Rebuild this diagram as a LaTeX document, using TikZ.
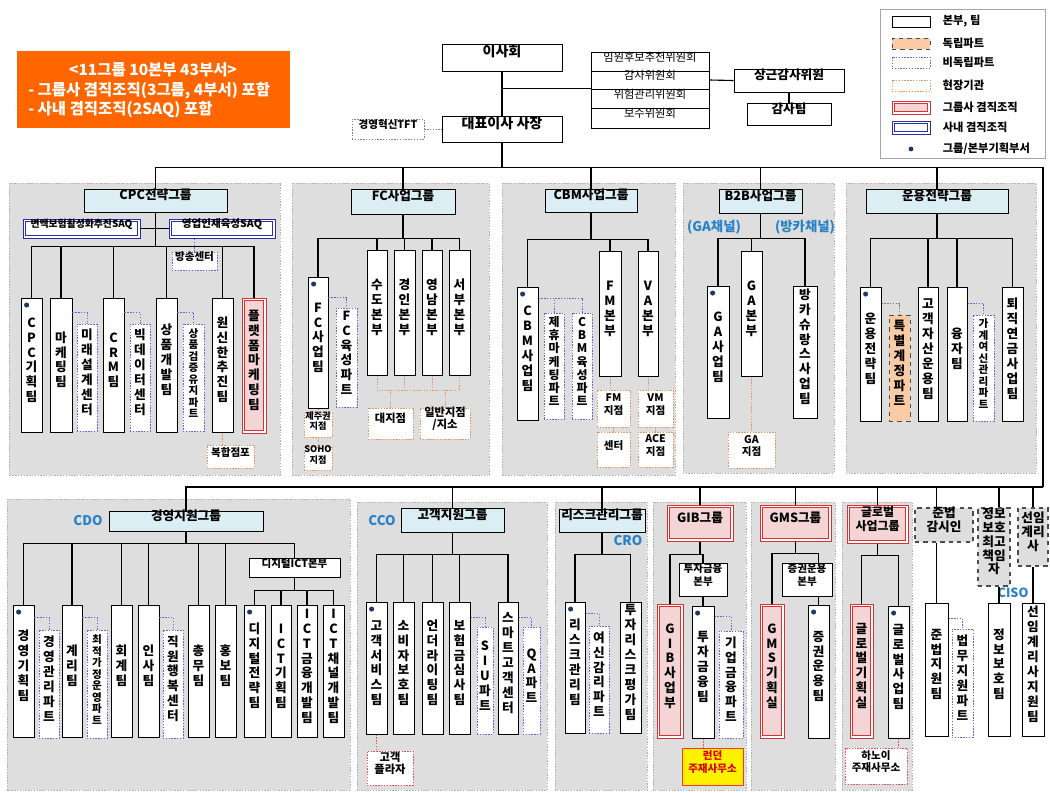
\documentclass[tikz,border=0pt]{standalone}
\usepackage{fontspec}
\setmainfont{Noto Sans CJK KR}
\usetikzlibrary{fit,positioning}

% one character per line
\ExplSyntaxOn
\NewDocumentCommand \vtext { m }
  {
    \tl_set:Nx \l_tmpa_tl { \tl_tail:n {#1} }
    \tl_head:n {#1}
    \tl_map_inline:Nn \l_tmpa_tl { \\ ##1 }
  }
\ExplSyntaxOff

\definecolor{hdr}{RGB}{219,238,244}
\definecolor{grpbg}{RGB}{222,222,222}
\definecolor{navy}{RGB}{31,56,100}
\definecolor{partblue}{RGB}{100,100,225}
\definecolor{fieldc}{RGB}{228,150,100}
\definecolor{dualc}{RGB}{215,50,50}
\definecolor{dualfill}{RGB}{244,212,212}
\definecolor{indepc}{RGB}{250,203,165}
\definecolor{saqc}{RGB}{45,45,160}
\definecolor{lblue}{RGB}{40,130,200}
\definecolor{banner}{RGB}{255,102,0}

\begin{document}
\begin{tikzpicture}[x=0.025cm, y=-0.025cm,
    dotline/.style={dash pattern=on 1pt off 1pt},
    team/.style={draw, fill=white, line width=0.7pt, inner sep=0pt, align=center, font=\bfseries\fontsize{9}{10.6}\selectfont},
    mid/.style={font=\bfseries\fontsize{8.5}{9.3}\selectfont},
    tight/.style={font=\bfseries\fontsize{7.5}{8.2}\selectfont},
    small/.style={font=\bfseries\fontsize{7.5}{8.6}\selectfont},
    part/.style={team, draw=partblue, dotline, line width=0.6pt},
    indep/.style={team, fill=indepc, draw=black!70, dashed, line width=0.6pt},
    field/.style={team, draw=fieldc, dotline, line width=0.6pt, small},
    redfield/.style={team, draw=red!70, dotline, line width=0.6pt, small},
    dual/.style={team, draw=dualc, line width=0.7pt,
        path picture={\draw[draw=dualc, fill=dualfill, line width=0.6pt] ([shift={(1.8pt,-1.8pt)}]path picture bounding box.north west) rectangle ([shift={(-1.8pt,1.8pt)}]path picture bounding box.south east);}},
    saqbox/.style={team, draw=saqc, line width=0.7pt,
        path picture={\draw[draw=saqc, line width=0.6pt] ([shift={(1.8pt,-1.8pt)}]path picture bounding box.north west) rectangle ([shift={(-1.8pt,1.8pt)}]path picture bounding box.south east);}},
    grouphead/.style={team, fill=hdr, font=\bfseries\fontsize{9}{10.5}\selectfont},
    officer/.style={team, fill=grpbg, draw=black!70, dashed, line width=0.9pt, font=\bfseries\fontsize{9}{9.8}\selectfont},
    cmte/.style={draw, fill=white, line width=0.6pt, inner sep=0pt, font=\fontsize{8}{9}\selectfont},
    plan/.style={path picture={\fill[navy] ([shift={(4pt,-5pt)}]path picture bounding box.north west) circle (1.8pt);}},
    grp/.style={fill=grpbg, draw=gray!60, dotline},
    chief/.style={text=lblue, font=\bfseries\fontsize{9.5}{11}\selectfont, inner sep=0pt},
    legtxt/.style={font=\bfseries\fontsize{8}{9}\selectfont, inner sep=0pt},
    bantxt/.style={text=white, font=\bfseries\fontsize{11}{12}\selectfont, inner sep=0pt},
    link/.style={line width=0.8pt},
    plink/.style={draw=partblue, dotline, line width=0.6pt},
    flink/.style={draw=fieldc, dotline, line width=0.6pt},
    rlink/.style={draw=red!70, dotline, line width=0.6pt},
    glink/.style={draw=gray, dotline, line width=0.6pt}
]
\useasboundingbox (0,0) rectangle (1050,792);

% Group backgrounds
\draw[grp] (9,183) rectangle (280,475);
\draw[grp] (292,183) rectangle (489,475);
\draw[grp] (502,183) rectangle (675,475);
\draw[grp] (683,183) rectangle (834,473);
\draw[grp] (846,183) rectangle (1036,473);
\draw[grp] (7,499) rectangle (350,790);
\draw[grp] (357,502) rectangle (547,790);
\draw[grp] (555,502) rectangle (647,790);
\draw[grp] (653,502) rectangle (746,790);
\draw[grp] (751,502) rectangle (835,790);
\draw[grp] (842,502) rectangle (912,790);

% Banner
\node[fill=banner, inner sep=0pt, fit={(17,51) (290,128)}] (note) {};
\node[bantxt] (note1) at (153,70) {<11그룹 10본부 43부서>};
\node[bantxt, anchor=west] (note2) at (28,91) {- 그룹사 겸직조직(3그룹, 4부서) 포함};
\node[bantxt, anchor=west] (note3) at (28,110) {- 사내 겸직조직(2SAQ) 포함};

% Legend
\draw[gray!70, line width=0.6pt] (880,9) rectangle (1045,158);
\node[team, fit={(892,16) (930,27)}] (lg1) {};
\node[indep, fit={(892,38) (930,49)}] (lg2) {};
\node[part, fit={(892,57) (930,68)}] (lg3) {};
\node[field, fit={(892,80) (930,91)}] (lg4) {};
\node[dual, fit={(892,101) (930,114)}] (lg5) {};
\node[saqbox, fit={(892,121) (930,134)}] (lg6) {};
\node[circle, fill=navy, inner sep=0pt, minimum size=0.12cm] (lg7) at (911,149) {};
\node[legtxt, right=0.3cm of lg1] (lt1) {본부, 팀};
\node[legtxt, right=0.3cm of lg2] (lt2) {독립파트};
\node[legtxt, right=0.3cm of lg3] (lt3) {비독립파트};
\node[legtxt, right=0.3cm of lg4] (lt4) {현장기관};
\node[legtxt, right=0.3cm of lg5] (lt5) {그룹사 겸직조직};
\node[legtxt, right=0.3cm of lg6] (lt6) {사내 겸직조직};
\node[legtxt, right=0.72cm of lg7] (lt7) {그룹/본부기획부서};

% Board and CEO
\node[team, font=\bfseries\fontsize{10}{12}\selectfont, fit={(442,44) (562,71)}] (board) {이사회};
\node[team, font=\bfseries\fontsize{10}{12}\selectfont, fit={(442,116) (562,142)}] (ceo) {대표이사 사장};
\node[team, draw=gray, dotline, line width=0.6pt, font=\bfseries\fontsize{7.5}{9}\selectfont, fit={(352,119) (424,139)}] (tft) {경영혁신TFT};
\node[cmte, fit={(591,52) (709,71)}] (cmt1) {임원후보추천위원회};
\node[cmte, fit={(591,71) (709,89)}] (cmt2) {감사위원회};
\node[cmte, fit={(591,89) (709,108)}] (cmt3) {위험관리위원회};
\node[cmte, fit={(591,108) (709,128)}] (cmt4) {보수위원회};
\node[team, fit={(734,69) (844,92)}] (auditor) {상근감사위원};
\node[team, fit={(747,103) (831,125)}] (audteam) {감사팀};

\draw[link] (board) -- (ceo);
\draw[link] (board.south |- cmt3.north west) -- (cmt3.north west);
\draw[link] (cmt2.east) -- (auditor.west);
\draw[link] (auditor) -- (audteam);
\draw[glink] (tft) -- (ceo);

% CPC group
\node[grouphead, fit={(84,189) (227,212)}] (gcpc) {CPC전략그룹};
\node[saqbox, font=\bfseries\fontsize{7}{8}\selectfont, fit={(23,219) (140,238)}] (saq1) {변액보험활성화추진SAQ};
\node[saqbox, font=\bfseries\fontsize{7.5}{8}\selectfont, fit={(169,219) (275,238)}] (saq2) {영업인재육성SAQ};
\node[part, small, fit={(172,252) (217,270)}] (bcast) {방송센터};
\node[team, plan, fit={(21,298) (42,432)}] (cpc1) {\vtext{CPC기획팀}};
\node[team, fit={(50,298) (72,432)}] (cpc2) {\vtext{마케팅팀}};
\node[part, fit={(77,324) (97,431)}] (cpc2p) {\vtext{미래설계센터}};
\node[team, fit={(103,298) (124,432)}] (cpc3) {\vtext{CRM팀}};
\node[part, fit={(130,324) (150,431)}] (cpc3p) {\vtext{빅데이터센터}};
\node[team, fit={(156,298) (177,432)}] (cpc4) {\vtext{상품개발팀}};
\node[part, tight, fit={(183,324) (204,431)}] (cpc4p) {\vtext{상품검증유지파트}};
\node[team, fit={(212,298) (233,432)}] (cpc5) {\vtext{원신한추진팀}};
\node[dual, fit={(242,298) (266,433)}] (cpc6) {\vtext{플랫폼마케팅팀}};
\node[field, fit={(207,445) (254,468)}] (shop) {복합점포};

\draw[link] (saq1) -- (saq2);
\draw[link] (gcpc.south) -- ++(0,34) -| (cpc1);
\draw[link] (gcpc.south) -- ++(0,34) -| (cpc2);
\draw[link] (gcpc.south) -- ++(0,34) -| (cpc3);
\draw[link] (gcpc.south) -- ++(0,34) -| (cpc4);
\draw[link] (gcpc.south) -- ++(0,34) -| (cpc5);
\draw[link] (gcpc.south) -- ++(0,34) -| (cpc6);
\draw[plink] (bcast.north) -- (bcast.north |- saq2.south);
\draw[plink] ([yshift=-0.375cm]cpc2.north east) -| (cpc2p);
\draw[plink] ([yshift=-0.375cm]cpc3.north east) -| (cpc3p);
\draw[plink] ([yshift=-0.375cm]cpc4.north east) -| (cpc4p);
\draw[flink] (cpc5.south) -- (cpc5.south |- shop.north);

% FC group
\node[grouphead, fit={(351,189) (455,214)}] (gfc) {FC사업그룹};
\node[team, plan, fit={(308,277) (328,408)}] (fc1) {\vtext{FC사업팀}};
\node[part, fit={(336,308) (357,407)}] (fc1p) {\vtext{FC육성파트}};
\node[team, fit={(367,250) (387,375)}] (fc2) {\vtext{수도본부}};
\node[team, fit={(394,250) (415,375)}] (fc3) {\vtext{경인본부}};
\node[team, fit={(422,250) (442,375)}] (fc4) {\vtext{영남본부}};
\node[team, fit={(449,250) (470,375)}] (fc5) {\vtext{서부본부}};
\node[field, font=\bfseries\fontsize{6.5}{7.5}\selectfont, fit={(304,413) (332,437)}] (brjeju) {제주권\\지점};
\node[field, font=\bfseries\fontsize{6.5}{7.5}\selectfont, fit={(304,447) (332,470)}] (brsoho) {SOHO\\지점};
\node[field, font=\bfseries\fontsize{8}{9}\selectfont, fit={(368,408) (413,439)}] (brbig) {대지점};
\node[field, font=\bfseries\fontsize{8}{9}\selectfont, fit={(420,408) (470,439)}] (brgen) {일반지점\\/지소};

\draw[link] (gfc.south) -- ++(0,24) -| (fc1);
\draw[link] (gfc.south) -- ++(0,24) -| (fc2);
\draw[link] (gfc.south) -- ++(0,24) -| (fc3);
\draw[link] (gfc.south) -- ++(0,24) -| (fc4);
\draw[link] (gfc.south) -- ++(0,24) -| (fc5);
\draw[plink] ([yshift=-0.525cm]fc1.north east) -| (fc1p);
\draw[flink] (fc1) -- (brjeju);
\draw[flink] (brjeju) -- (brsoho);
\draw[flink] (fc2.south) -- ++(0,15) -| (fc5.south);
\draw[flink] (fc3.south) -- ++(0,15);
\draw[flink] (fc4.south) -- ++(0,15);
\draw[flink] (brbig.north) -- ++(0,-18);
\draw[flink] (brgen.north) -- ++(0,-18);

% CBM group
\node[grouphead, fit={(545,189) (637,212)}] (gcbm) {CBM사업그룹};
\node[team, plan, fit={(517,287) (538,420)}] (cbm1) {\vtext{CBM사업팀}};
\node[part, mid, fit={(544,313) (564,419)}] (cbm1p1) {\vtext{제휴마케팅파트}};
\node[part, mid, fit={(572,313) (592,419)}] (cbm1p2) {\vtext{CBM육성파트}};
\node[team, fit={(599,251) (621,376)}] (cbm2) {\vtext{FM본부}};
\node[team, fit={(638,251) (658,376)}] (cbm3) {\vtext{VA본부}};
\node[field, fit={(597,390) (630,427)}] (fm1) {FM\\지점};
\node[field, fit={(597,432) (630,467)}] (fm2) {센터};
\node[field, fit={(638,390) (673,427)}] (vm1) {VM\\지점};
\node[field, fit={(638,432) (673,467)}] (vm2) {ACE\\지점};

\draw[link] (gcbm.south) -- ++(0,27) -| (cbm1);
\draw[link] (gcbm.south) -- ++(0,27) -| (cbm2);
\draw[link] (gcbm.south) -- ++(0,27) -| (cbm3);
\draw[plink] ([yshift=-0.3cm]cbm1.north east) -| (cbm1p1);
\draw[plink] ([yshift=-0.3cm]cbm1.north east) -| (cbm1p2);
\draw[flink] (cbm2.south) -- (cbm2.south |- fm1.north);
\draw[flink] (fm1) -- (fm2);
\draw[flink] (cbm3.south) -- (cbm3.south |- vm1.north);
\draw[flink] (vm1) -- (vm2);

% B2B group
\node[grouphead, fit={(719,189) (802,213)}] (gb2b) {B2B사업그룹};
\node[chief] (gach) at (714,227) {(GA채널)};
\node[chief] (bach) at (805,227) {(방카채널)};
\node[team, plan, fit={(707,286) (729,418)}] (b2b1) {\vtext{GA사업팀}};
\node[team, fit={(741,251) (762,376)}] (b2b2) {\vtext{GA본부}};
\node[team, fit={(793,286) (817,418)}] (b2b3) {\vtext{방카슈랑스사업팀}};
\node[field, fit={(728,432) (775,468)}] (ga1) {GA\\지점};

\draw[link] (gb2b.south) -- ++(0,25) -| (b2b1);
\draw[link] (gb2b.south) -- ++(0,25) -| (b2b2);
\draw[link] (gb2b.south) -- ++(0,25) -| (b2b3);
\draw[flink] (b2b2.south) -- (b2b2.south |- ga1.north);

% Asset management group
\node[grouphead, fit={(866,189) (1008,213)}] (gops) {운용전략그룹};
\node[team, plan, fit={(860,287) (881,421)}] (ops1) {\vtext{운용전략팀}};
\node[indep, fit={(889,315) (910,421)}] (ops1p) {\vtext{특별계정파트}};
\node[team, fit={(918,287) (938,421)}] (ops2) {\vtext{고객자산운용팀}};
\node[team, fit={(947,287) (967,421)}] (ops3) {\vtext{융자팀}};
\node[part, tight, fit={(973,315) (994,421)}] (ops3p) {\vtext{가계여신관리파트}};
\node[team, fit={(1002,287) (1023,421)}] (ops4) {\vtext{퇴직연금사업팀}};

\draw[link] (gops.south) -- ++(0,25) -| (ops1);
\draw[link] (gops.south) -- ++(0,25) -| (ops2);
\draw[link] (gops.south) -- ++(0,25) -| (ops3);
\draw[link] (gops.south) -- ++(0,25) -| (ops4);
\draw[glink] ([yshift=-0.425cm]ops1.north east) -| (ops1p);
\draw[plink] ([yshift=-0.425cm]ops3.north east) -| (ops3p);

% Management support group
\node[grouphead, fit={(109,511) (263,531)}] (gmgmt) {경영지원그룹};
\node[chief] (cdo) at (88,521) {CDO};
\node[team, plan, fit={(13,605) (34,737)}] (mg1) {\vtext{경영기획팀}};
\node[part, fit={(39,630) (59,738)}] (mg1p) {\vtext{경영관리파트}};
\node[team, fit={(62,605) (82,737)}] (mg2) {\vtext{계리팀}};
\node[part, tight, fit={(87,630) (107,738)}] (mg2p) {\vtext{최적가정운영파트}};
\node[team, fit={(111,605) (132,737)}] (mg3) {\vtext{회계팀}};
\node[team, fit={(138,605) (159,737)}] (mg4) {\vtext{인사팀}};
\node[part, fit={(163,630) (183,738)}] (mg4p) {\vtext{직원행복센터}};
\node[team, fit={(188,605) (209,737)}] (mg5) {\vtext{총무팀}};
\node[team, fit={(215,605) (236,737)}] (mg6) {\vtext{홍보팀}};
\node[team, small, fit={(249,558) (340,577)}] (ict) {디지털ICT본부};
\node[team, plan, fit={(244,605) (265,737)}] (ict1) {\vtext{디지털전략팀}};
\node[team, fit={(271,605) (291,737)}] (ict2) {\vtext{ICT기획팀}};
\node[team, fit={(297,605) (317,737)}] (ict3) {\vtext{ICT금융개발팀}};
\node[team, fit={(323,605) (344,737)}] (ict4) {\vtext{ICT채널개발팀}};

\draw[link] (gmgmt.south) -- ++(0,12) -| (mg1);
\draw[link] (gmgmt.south) -- ++(0,12) -| (mg2);
\draw[link] (gmgmt.south) -- ++(0,12) -| (mg3);
\draw[link] (gmgmt.south) -- ++(0,12) -| (mg4);
\draw[link] (gmgmt.south) -- ++(0,12) -| (mg5);
\draw[link] (gmgmt.south) -- ++(0,12) -| (mg6);
\draw[link] (gmgmt.south) -- ++(0,12) -| (ict);
\draw[link] (ict.south) -- ++(0,13) -| (ict1);
\draw[link] (ict.south) -- ++(0,13) -| (ict2);
\draw[link] (ict.south) -- ++(0,13) -| (ict3);
\draw[link] (ict.south) -- ++(0,13) -| (ict4);
\draw[plink] ([yshift=-0.325cm]mg1.north east) -| (mg1p);
\draw[plink] ([yshift=-0.325cm]mg2.north east) -| (mg2p);
\draw[plink] ([yshift=-0.325cm]mg4.north east) -| (mg4p);

% Customer support group
\node[grouphead, fit={(401,508) (504,532)}] (gcs) {고객지원그룹};
\node[chief] (cco) at (382,521) {CCO};
\node[team, plan, fit={(366,602) (387,734)}] (cs1) {\vtext{고객서비스팀}};
\node[team, fit={(393,602) (414,734)}] (cs2) {\vtext{소비자보호팀}};
\node[team, fit={(422,602) (443,734)}] (cs3) {\vtext{언더라이팅팀}};
\node[team, fit={(449,602) (470,734)}] (cs4) {\vtext{보험금심사팀}};
\node[part, fit={(477,627) (493,734)}] (cs4p) {\vtext{SIU파트}};
\node[team, fit={(498,602) (518,734)}] (cs5) {\vtext{스마트고객센터}};
\node[part, fit={(523,627) (540,734)}] (cs5p) {\vtext{QA파트}};
\node[redfield, font=\bfseries\fontsize{8}{9}\selectfont, fit={(367,751) (413,785)}] (plaza) {고객\\플라자};

\draw[link] (gcs.south) -- ++(0,22) -| (cs1);
\draw[link] (gcs.south) -- ++(0,22) -| (cs2);
\draw[link] (gcs.south) -- ++(0,22) -| (cs3);
\draw[link] (gcs.south) -- ++(0,22) -| (cs4);
\draw[link] (gcs.south) -- ++(0,22) -| (cs5);
\draw[plink] ([yshift=-0.4cm]cs4.north east) -| (cs4p);
\draw[plink] ([yshift=-0.4cm]cs5.north east) -| (cs5p);
\draw[rlink] (cs1.south) -- (cs1.south |- plaza.north);

% Risk management group
\node[grouphead, fit={(559,509) (645,532)}] (grisk) {리스크관리그룹};
\node[chief] (cro) at (628,541) {CRO};
\node[team, plan, fit={(565,602) (585,733)}] (rk1) {\vtext{리스크관리팀}};
\node[part, fit={(589,626) (609,733)}] (rk1p) {\vtext{여신감리파트}};
\node[team, fit={(620,602) (641,733)}] (rk2) {\vtext{투자리스크평가팀}};

\draw[link] (grisk.south) -- ++(0,22) -| (rk1);
\draw[link] (grisk.south) -- ++(0,22) -| (rk2);
\draw[plink] ([yshift=-0.3cm]rk1.north east) -| (rk1p);

% GIB group
\node[dual, fit={(667,505) (733,541)}] (ggib) {GIB그룹};
\node[team, small, fit={(679,563) (727,596)}] (ibhq) {투자금융\\본부};
\node[dual, fit={(657,604) (683,738)}] (gib1) {\vtext{GIB사업부}};
\node[team, plan, fit={(692,606) (714,738)}] (gib2) {\vtext{투자금융팀}};
\node[part, fit={(719,631) (743,738)}] (gib2p) {\vtext{기업금융파트}};
\node[team, fill=yellow, draw=red!80, line width=0.6pt, text=red!85!black, small, fit={(682,748) (743,785)}] (london) {런던\\주재사무소};

\draw[link] (ggib.south) -- ++(0,13) -| (gib1);
\draw[link] (ggib.south) -- ++(0,13) -| (ibhq);
\draw[link] (ibhq) -- (gib2);
\draw[plink] ([yshift=-0.275cm]gib2.north east) -| (gib2p);
\draw[rlink] (gib2.south) -- (gib2.south |- london.north);

% GMS group
\node[dual, fit={(760,505) (831,541)}] (ggms) {GMS그룹};
\node[team, small, fit={(782,563) (832,596)}] (gmshq) {증권운용\\본부};
\node[dual, fit={(760,604) (784,738)}] (gms1) {\vtext{GMS기획실}};
\node[team, plan, fit={(808,605) (829,738)}] (gms2) {\vtext{증권운용팀}};

\draw[link] (ggms.south) -- ++(0,12) -| (gms1);
\draw[link] (ggms.south) -- ++(0,12) -| (gms2.north |- gmshq.north);
\draw[link] (gmshq.south -| gms2.north) -- (gms2.north);

% Global business group
\node[dual, font=\bfseries\fontsize{8.5}{9.5}\selectfont, fit={(847,505) (908,543)}] (gglb) {글로벌\\사업그룹};
\node[dual, fit={(850,604) (873,738)}] (glb1) {\vtext{글로벌기획실}};
\node[team, plan, fit={(888,606) (909,738)}] (glb2) {\vtext{글로벌사업팀}};
\node[redfield, fit={(845,748) (907,784)}] (hanoi) {하노이\\주재사무소};

\draw[link] (gglb.south) -- ++(0,12) -| (glb1);
\draw[link] (gglb.south) -- ++(0,12) -| (glb2);
\draw[rlink] (glb2.south) -- (glb2.south |- hanoi.north);

% Officers
\node[officer, fit={(915,508) (973,542)}] (cmpoff) {준법\\감시인};
\node[team, fit={(925,603) (948,736)}] (cmpteam) {\vtext{준법지원팀}};
\node[part, fit={(952,629) (973,737)}] (cmpp) {\vtext{법무지원파트}};
\node[officer, fit={(978,508) (1010,586)}] (cisooff) {정보\\보호\\최고\\책임\\자};
\node[chief, font=\bfseries\fontsize{9}{10}\selectfont] (ciso) at (1013,593) {CISO};
\node[team, fit={(988,603) (1010,736)}] (cisoteam) {\vtext{정보보호팀}};
\node[officer, fit={(1018,508) (1048,566)}] (actoff) {선임\\계리\\사};
\node[team, fit={(1022,603) (1044,736)}] (actteam) {\vtext{선임계리사지원팀}};

\draw[plink] ([yshift=-0.4cm]cmpteam.north east) -| (cmpp);
\draw[link] (cmpoff.south -| cmpteam.north) -- (cmpteam.north);
\draw[link] (cisooff.south -| cisoteam.north) -- (cisoteam.north);
\draw[link] (actoff.south -| actteam.north) -- (actteam.north);

% Main lines
\draw[link] (ceo.south) -- ++(0,25) coordinate (bus);
\coordinate (bus2) at (1043,487);
\draw[link] (bus) -| (gcpc);
\draw[link] (bus) -| (gfc);
\draw[link] (bus) -| (gcbm);
\draw[link] (bus) -| (gb2b);
\draw[link] (bus) -| (gops);
\draw[link] (bus) -| (bus2);
\draw[link] (bus2) -| (gmgmt);
\draw[link] (bus2) -| (gcs);
\draw[link] (bus2) -| (grisk);
\draw[link] (bus2) -| (ggib);
\draw[link] (bus2) -| (ggms);
\draw[link] (bus2) -| (gglb);
\draw[link] (bus2) -| (cmpoff.north -| cmpteam.north);
\draw[link] (bus2) -| (cisooff.north -| cisoteam.north);
\draw[link] (bus2) -| (actoff.north -| actteam.north);

\end{tikzpicture}
\end{document}
